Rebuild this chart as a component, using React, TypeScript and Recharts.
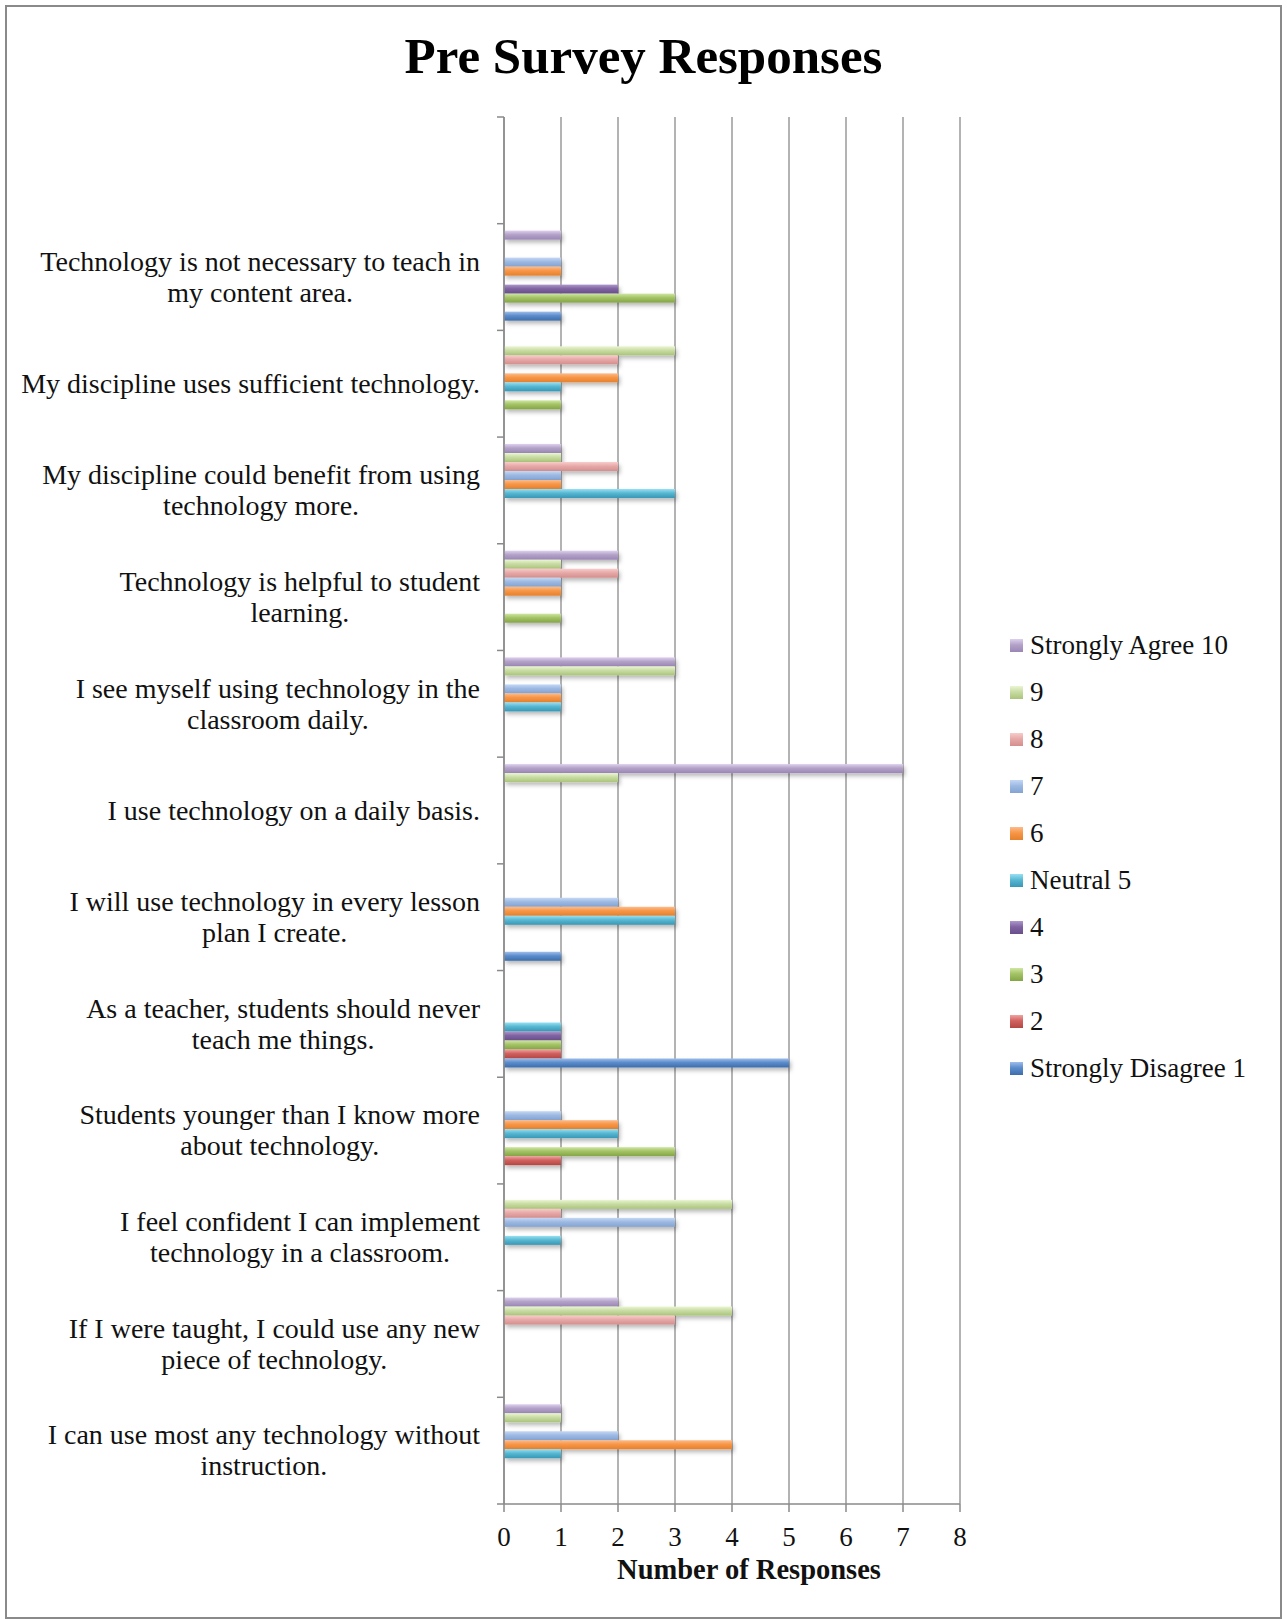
import React from 'react';
import { BarChart, Bar, XAxis, YAxis, CartesianGrid } from 'recharts';

document.body.style.margin = '0';

const FONT = "'Liberation Serif', 'DejaVu Serif', serif";

// categories from top to bottom ("\n" = line break in the axis label)
const CATEGORIES = [
  'Technology is not necessary to teach in\nmy content area.',
  'My discipline uses sufficient technology.',
  'My discipline could benefit from using\ntechnology more.',
  'Technology is helpful to student\nlearning.',
  'I see myself using technology in the\nclassroom daily.',
  'I use technology on a daily basis.',
  'I will use technology in every lesson\nplan I create.',
  'As a teacher, students should never\nteach me things.',
  'Students younger than I know more\nabout technology.',
  'I feel confident I can implement\ntechnology in a classroom.',
  'If I were taught, I could use any new\npiece of technology.',
  'I can use most any technology without\ninstruction.',
];

const STRONGLY_AGREE_10 = [1, 0, 1, 2, 3, 7, 0, 0, 0, 0, 2, 1];
const NINE = [0, 3, 1, 1, 3, 2, 0, 0, 0, 4, 4, 1];
const EIGHT = [0, 2, 2, 2, 0, 0, 0, 0, 0, 1, 3, 0];
const SEVEN = [1, 0, 1, 1, 1, 0, 2, 0, 1, 3, 0, 2];
const SIX = [1, 2, 1, 1, 1, 0, 3, 0, 2, 0, 0, 4];
const NEUTRAL_5 = [0, 1, 3, 0, 1, 0, 3, 1, 2, 1, 0, 1];
const FOUR = [2, 0, 0, 0, 0, 0, 0, 1, 0, 0, 0, 0];
const THREE = [3, 1, 0, 1, 0, 0, 0, 1, 3, 0, 0, 0];
const TWO = [0, 0, 0, 0, 0, 0, 0, 1, 1, 0, 0, 0];
const STRONGLY_DISAGREE_1 = [1, 0, 0, 0, 0, 0, 1, 5, 0, 0, 0, 0];

const X_TICKS = [0, 1, 2, 3, 4, 5, 6, 7, 8];

// series in band order (top of each band first), with light / mid / dark shades
const SERIES = [
  { key: 's10', name: 'Strongly Agree 10', values: STRONGLY_AGREE_10, c: ['#ddd0ee', '#b3a2c7', '#9a86b6'] },
  { key: 's9', name: '9', values: NINE, c: ['#eaf6d2', '#c9dca4', '#aac47a'] },
  { key: 's8', name: '8', values: EIGHT, c: ['#f8cccb', '#e6a9a8', '#d48e8d'] },
  { key: 's7', name: '7', values: SEVEN, c: ['#c4d8f5', '#9db9e2', '#84a3d2'] },
  { key: 's6', name: '6', values: SIX, c: ['#fdbb8c', '#f79646', '#e5812e'] },
  { key: 's5', name: 'Neutral 5', values: NEUTRAL_5, c: ['#97e0f3', '#58b8d2', '#3797b5'] },
  { key: 's4', name: '4', values: FOUR, c: ['#ad97cb', '#8064a2', '#694e8c'] },
  { key: 's3', name: '3', values: THREE, c: ['#cfe6a2', '#a3c365', '#84a545'] },
  { key: 's2', name: '2', values: TWO, c: ['#f1a3a1', '#d0615e', '#b44744'] },
  { key: 's1', name: 'Strongly Disagree 1', values: STRONGLY_DISAGREE_1, c: ['#9fbdeb', '#5b8ccb', '#3e6dab'] },
];

// one empty category row sits above the first question
const rows = [
  { name: '' } as Record<string, any>,
  ...CATEGORIES.map((name, i) => {
    const row: Record<string, any> = { name };
    SERIES.forEach((s) => { row[s.key] = s.values[i]; });
    return row;
  }),
];

const W = 1287;
const H = 1619;
const PLOT_LEFT = 504;
const PLOT_RIGHT = 960;
const PLOT_TOP = 117;
const PLOT_BOTTOM = 1504;
const Y_AXIS_W = 60;
const X_AXIS_H = 30;
const BAND = (PLOT_BOTTOM - PLOT_TOP) / rows.length;
const LABEL_FONT = 28;

let measureCtx: CanvasRenderingContext2D | null = null;
function textWidth(s: string) {
  if (!measureCtx) measureCtx = document.createElement('canvas').getContext('2d');
  if (!measureCtx) return s.length * 12;
  measureCtx.font = `${LABEL_FONT}px ${FONT}`;
  return measureCtx.measureText(s).width;
}

function CategoryTick(props: any) {
  const { y, payload, index } = props;
  const lines: string[] = String(payload.value || '').split('\n').filter((l) => l.length);
  const blockW = Math.max(0, ...lines.map(textWidth));
  const cx = 480 - blockW / 2;
  const top = y - ((lines.length - 1) * 31) / 2;
  return (
    <g>
      <line x1={PLOT_LEFT - 7} x2={PLOT_LEFT} y1={y - BAND / 2} y2={y - BAND / 2} stroke="#8a8a8a" strokeWidth={1.5} />
      {index === rows.length - 1 && (
        <line x1={PLOT_LEFT - 7} x2={PLOT_LEFT} y1={y + BAND / 2} y2={y + BAND / 2} stroke="#8a8a8a" strokeWidth={1.5} />
      )}
      {lines.map((l, i) => (
        <text key={i} x={cx} y={top + i * 31} dy="0.33em" textAnchor="middle"
          fontFamily={FONT} fontSize={LABEL_FONT} fill="#111">
          {l}
        </text>
      ))}
    </g>
  );
}

function GlossBar(props: any) {
  const { x, y, width, height, gid } = props;
  if (!width || width <= 0) return null;
  return <rect x={x} y={y} width={width} height={height} fill={`url(#${gid})`} filter="url(#barShadow)" />;
}

function AxisTitle(props: any) {
  const vb = props.viewBox || {};
  return (
    <text x={vb.x + vb.width / 2 + 17} y={1579} textAnchor="middle" fontFamily={FONT}
      fontSize={28.5} fontWeight={700} fill="#111">
      Number of Responses
    </text>
  );
}

export default function App() {
  return (
    <div style={{ position: 'relative', width: W, height: H, background: '#fff', fontFamily: FONT, overflow: 'hidden' }}>
      <div style={{ position: 'absolute', left: 5, top: 5, width: W - 10, height: H - 5, border: '2px solid #8a8a8a', boxSizing: 'border-box' }} />
      <div style={{ position: 'absolute', left: 0, width: W, top: 31, textAlign: 'center', fontSize: 51, lineHeight: '51px', fontWeight: 700, color: '#000' }}>
        Pre Survey Responses
      </div>

      <div style={{ position: 'absolute', left: 0, top: 0 }}>
        <BarChart
          width={W}
          height={H}
          data={rows}
          layout="vertical"
          barGap={0}
          barCategoryGap="6.5%"
          margin={{ top: PLOT_TOP, right: W - PLOT_RIGHT, bottom: H - PLOT_BOTTOM - X_AXIS_H, left: PLOT_LEFT - Y_AXIS_W }}
        >
          <defs>
            <filter id="barShadow" x="-5%" y="-60%" width="115%" height="260%">
              <feDropShadow dx={2} dy={3} stdDeviation={2} floodColor="#000" floodOpacity={0.28} />
            </filter>
            {SERIES.map((s) => (
              <linearGradient key={s.key} id={`g_${s.key}`} x1="0" y1="0" x2="0" y2="1">
                <stop offset="0%" stopColor={s.c[0]} />
                <stop offset="45%" stopColor={s.c[1]} />
                <stop offset="100%" stopColor={s.c[2]} />
              </linearGradient>
            ))}
          </defs>
          <CartesianGrid horizontal={false} stroke="#9a9a9a" strokeWidth={1.5} />
          <XAxis
            type="number"
            domain={[0, 8]}
            ticks={X_TICKS}
            height={X_AXIS_H}
            tickSize={8}
            tickMargin={15}
            axisLine={{ stroke: '#8a8a8a', strokeWidth: 1.5 }}
            tickLine={{ stroke: '#8a8a8a', strokeWidth: 1.5 }}
            tick={{ fontFamily: FONT, fontSize: 27, fill: '#111' }}
            label={{ content: AxisTitle }}
          />
          <YAxis
            type="category"
            dataKey="name"
            width={Y_AXIS_W}
            interval={0}
            tickLine={false}
            axisLine={{ stroke: '#8a8a8a', strokeWidth: 1.5 }}
            tick={<CategoryTick />}
          />
          {SERIES.map((s) => (
            <Bar
              key={s.key}
              dataKey={s.key}
              name={s.name}
              isAnimationActive={false}
              shape={(p: any) => <GlossBar {...p} gid={`g_${s.key}`} />}
            />
          ))}
        </BarChart>
      </div>

      {/* legend, top entry = Strongly Agree 10 */}
      <div style={{ position: 'absolute', left: 1010, top: 622 }}>
        {SERIES.map((s) => (
          <div key={s.key} style={{ display: 'flex', alignItems: 'center', height: 47 }}>
            <span style={{ width: 13, height: 13, marginRight: 7, background: `linear-gradient(to bottom, ${s.c[0]}, ${s.c[1]} 45%, ${s.c[2]})` }} />
            <span style={{ fontSize: 27, color: '#111', whiteSpace: 'nowrap' }}>{s.name}</span>
          </div>
        ))}
      </div>
    </div>
  );
}
